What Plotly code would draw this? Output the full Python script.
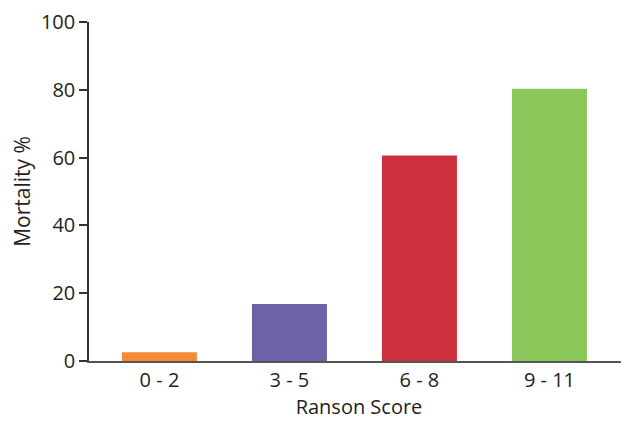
import plotly.graph_objects as go

categories = ["0 - 2", "3 - 5", "6 - 8", "9 - 11"]
mortality = [2.6, 16.8, 60.6, 80.3]
colors = ["#F58B35", "#6E61A8", "#CE2F3C", "#8BC75A"]
y_ticks = [0, 20, 40, 60, 80, 100]

fig = go.Figure(go.Bar(
    x=list(range(len(categories))),
    y=mortality,
    marker=dict(color=colors, line=dict(width=0)),
    width=0.577,
))

# page body has an 8px margin, so the figure is offset by 8px
font_family = "Open Sans, Noto Sans, sans-serif"
fig.update_layout(
    width=621, height=413,
    margin=dict(l=81, r=0, t=14, b=60, autoexpand=False),
    paper_bgcolor="white", plot_bgcolor="white",
    font=dict(family=font_family, size=20, color="#231F20"),
    showlegend=False,
)
fig.update_xaxes(
    range=[-0.542, 3.612], automargin=False,
    tickmode="array", tickvals=list(range(len(categories))), ticktext=categories,
    showline=True, linecolor="#555555", linewidth=1.5,
    showgrid=False, zeroline=False, ticks="",
    title=dict(text="Ranson Score", standoff=4, font=dict(size=20)),
    tickfont=dict(size=20),
)
fig.update_yaxes(
    range=[0, 100], automargin=False,
    tickmode="array", tickvals=y_ticks,
    showline=True, linecolor="#333333", linewidth=1.5,
    showgrid=False, zeroline=False,
    ticks="outside", ticklen=8, tickcolor="#333333", tickwidth=1.5,
    ticklabeloverflow="allow",
    title=dict(text="Mortality %", standoff=10, font=dict(size=21)),
    tickfont=dict(size=20),
)

fig.write_html("out.html")
